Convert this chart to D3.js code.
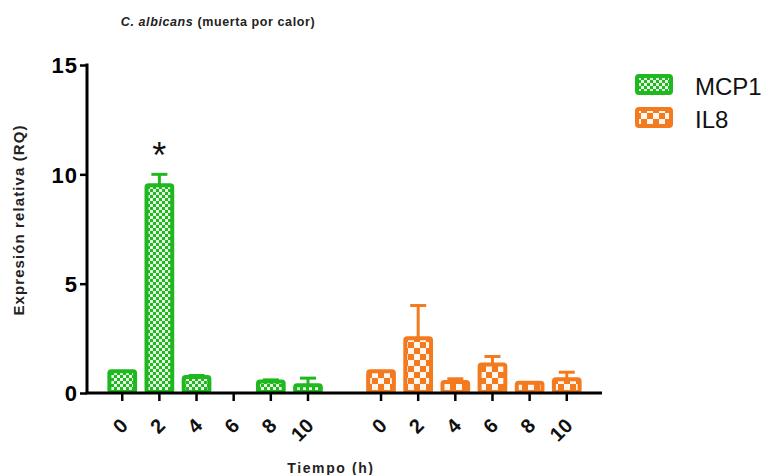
<!DOCTYPE html>
<html>
<head>
<meta charset="utf-8">
<script src="https://cdn.jsdelivr.net/npm/d3@7"></script>
<style>
  html, body { margin: 0; padding: 0; background: #fff; }
  svg { display: block; font-family: "Liberation Sans", Arial, sans-serif; }
</style>
</head>
<body>
<svg id="chart" width="769" height="475"></svg>
<script>
// Relative expression (RQ) of MCP1 and IL8 after heat-killed C. albicans
const genes = ["MCP1", "IL8"];
const times = ["0", "2", "4", "6", "8", "10"];
const mcp1Mean = [1.0, 9.5, 0.73, 0, 0.53, 0.35];
const mcp1Err  = [0, 0.5, 0.07, 0, 0.07, 0.33];
const il8Mean  = [1.0, 2.5, 0.5, 1.3, 0.47, 0.63];
const il8Err   = [0, 1.5, 0.15, 0.37, 0, 0.32];
const yTicks = [0, 5, 10, 15];
const significant = [{ gene: "MCP1", time: "2", mark: "*" }];

const colors = { MCP1: "#1fb81f", IL8: "#f47a1f" };
const means = { MCP1: mcp1Mean, IL8: il8Mean };
const errs = { MCP1: mcp1Err, IL8: il8Err };

const svg = d3.select("#chart");

// checkerboard fills
const defs = svg.append("defs");
function checker(id, color, cell, light) {
  const p = defs.append("pattern")
    .attr("id", id).attr("patternUnits", "userSpaceOnUse")
    .attr("width", cell * 2).attr("height", cell * 2);
  p.append("rect").attr("width", cell * 2).attr("height", cell * 2).attr("fill", color);
  p.append("rect").attr("width", cell).attr("height", cell).attr("fill", light);
  p.append("rect").attr("x", cell).attr("y", cell).attr("width", cell).attr("height", cell).attr("fill", light);
}
checker("pat-MCP1", colors.MCP1, 3, "#e6f7e6");
checker("pat-IL8", colors.IL8, 6, "#fff6ee");

const axisLeft = 87, axisRight = 602, yBase = 393, yTop = 65;

const y = d3.scaleLinear().domain([0, 15]).range([yBase, yTop]);
const xGroup = d3.scaleBand().domain(genes).range([axisLeft, axisRight])
  .paddingInner(0.11).paddingOuter(0.05);
const xTime = d3.scaleBand().domain(times).range([0, xGroup.bandwidth()]).padding(0.2);

const rows = [];
genes.forEach(g => times.forEach((t, i) => {
  rows.push({ gene: g, time: t, mean: means[g][i], err: errs[g][i] });
}));
const cx = d => xGroup(d.gene) + xTime(d.time) + xTime.bandwidth() / 2;

// bars
const sw = 4;
svg.append("g").selectAll("rect")
  .data(rows.filter(d => d.mean > 0))
  .join("rect")
  .attr("x", d => xGroup(d.gene) + xTime(d.time) + sw / 2)
  .attr("width", xTime.bandwidth() - sw)
  .attr("y", d => y(d.mean))
  .attr("height", d => y(0) - y(d.mean) - 1)
  .attr("rx", 2)
  .attr("fill", d => `url(#pat-${d.gene})`)
  .attr("stroke", d => colors[d.gene])
  .attr("stroke-width", sw);

// upper error bars
const eb = svg.append("g").selectAll("g")
  .data(rows.filter(d => d.mean > 0 && d.err > 0))
  .join("g")
  .attr("stroke", d => colors[d.gene])
  .attr("stroke-width", 3);
eb.append("line")
  .attr("x1", cx).attr("x2", cx)
  .attr("y1", d => y(d.mean)).attr("y2", d => y(d.mean + d.err));
eb.append("line")
  .attr("x1", d => cx(d) - 8).attr("x2", d => cx(d) + 8)
  .attr("y1", d => y(d.mean + d.err)).attr("y2", d => y(d.mean + d.err));

// significance marks
svg.append("g").selectAll("text")
  .data(significant)
  .join("text")
  .attr("x", d => cx(rows.find(r => r.gene === d.gene && r.time === d.time)))
  .attr("y", d => {
    const r = rows.find(r => r.gene === d.gene && r.time === d.time);
    return y(r.mean + r.err) - 6;
  })
  .attr("text-anchor", "middle")
  .attr("font-size", 36)
  .attr("fill", "#111")
  .text(d => d.mark);

// y axis
const yAxis = svg.append("g").attr("transform", `translate(${axisLeft},0)`)
  .call(d3.axisLeft(y).tickValues(yTicks).tickSize(7).tickSizeOuter(0));
yAxis.select(".domain").attr("stroke", "#000").attr("stroke-width", 3)
  .attr("d", `M0,${yTop - 1.5}V${yBase}`);
yAxis.selectAll(".tick line").attr("stroke", "#000").attr("stroke-width", 2.5);
yAxis.selectAll(".tick text")
  .attr("x", -9).attr("dy", "0.36em")
  .attr("font-size", 22).attr("font-weight", "bold").attr("fill", "#000")
  .attr("letter-spacing", 1)
  .attr("font-family", "Liberation Sans, Arial, sans-serif");

// x axis
svg.append("line")
  .attr("x1", axisLeft - 1.5).attr("x2", axisRight)
  .attr("y1", yBase).attr("y2", yBase)
  .attr("stroke", "#000").attr("stroke-width", 3);
const xt = svg.append("g").selectAll("g")
  .data(rows)
  .join("g")
  .attr("transform", d => `translate(${cx(d)},${yBase})`);
xt.append("line").attr("y1", 0).attr("y2", 8)
  .attr("stroke", "#000").attr("stroke-width", 2.5);
xt.append("text")
  .attr("transform", "translate(7,34) rotate(-45)")
  .attr("text-anchor", "end")
  .attr("font-size", 20).attr("font-weight", "bold").attr("fill", "#111")
  .text(d => d.time);

// axis titles
svg.append("text")
  .attr("x", 331).attr("y", 473)
  .attr("text-anchor", "middle")
  .attr("font-size", 14).attr("font-weight", "bold").attr("letter-spacing", 1.6)
  .attr("fill", "#222")
  .text("Tiempo (h)");

svg.append("text")
  .attr("transform", "translate(24,220) rotate(-90)")
  .attr("text-anchor", "middle")
  .attr("font-size", 15).attr("font-weight", "bold").attr("letter-spacing", 1.1)
  .attr("fill", "#222")
  .text("Expresión relativa (RQ)");

// title
const title = svg.append("text")
  .attr("x", 218).attr("y", 26)
  .attr("text-anchor", "middle")
  .attr("font-size", 12.5).attr("font-weight", "bold").attr("letter-spacing", 0.6)
  .attr("fill", "#222");
title.append("tspan").attr("font-style", "italic").text("C. albicans");
title.append("tspan").text(" (muerta por calor)");

// legend
const legend = svg.append("g").selectAll("g")
  .data(genes)
  .join("g")
  .attr("transform", (d, i) => `translate(635,${74 + i * 33})`);
legend.append("rect")
  .attr("x", 2).attr("y", 2).attr("width", 34).attr("height", 17).attr("rx", 2)
  .attr("fill", d => `url(#pat-${d})`)
  .attr("stroke", d => colors[d]).attr("stroke-width", 4);
legend.append("text")
  .attr("x", 60).attr("y", 21)
  .attr("font-size", 24).attr("fill", "#111")
  .text(d => d);
</script>
</body>
</html>
